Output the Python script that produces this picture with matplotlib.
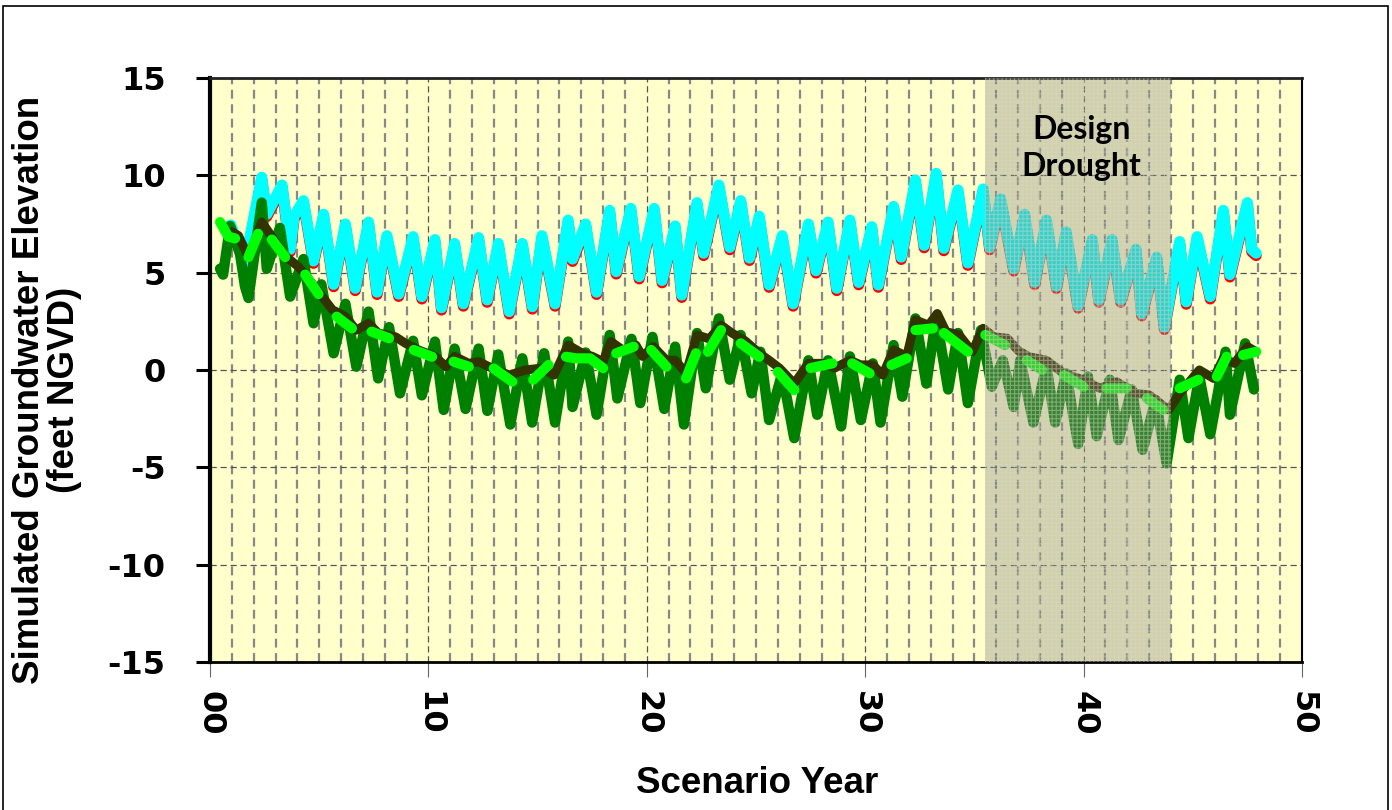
import numpy as np
import matplotlib
matplotlib.use("Agg")
import matplotlib.pyplot as plt
import matplotlib.transforms as mtransforms
from matplotlib.patches import Rectangle

# ---------------- data ----------------
cyan_x = [0.75, 0.95, 1.6, 2.37, 2.6, 3.3, 3.67, 3.85, 4.28, 4.74, 5.2, 5.66, 6.2, 6.65,
          7.26, 7.65, 8.1, 8.64, 9.3, 9.7, 10.3, 10.6, 11.2, 11.6, 12.3, 12.69, 13.2, 13.7,
          14.3, 14.76, 15.2, 15.8, 16.4, 16.6, 17.2, 17.7, 18.3, 18.6, 19.27, 19.65, 20.34,
          20.7, 21.3, 21.6, 22.3, 22.6, 23.3, 23.8, 24.3, 24.7, 25.15, 25.6, 26.2, 26.7,
          27.4, 27.75, 28.3, 28.7, 29.3, 29.7, 30.3, 30.6, 31.3, 31.65, 32.3, 32.7, 33.25,
          33.6, 34.25, 34.7, 35.4, 35.7, 36.2, 36.8, 37.3, 37.76, 38.3, 38.76, 39.2, 39.75,
          40.4, 40.7, 41.3, 41.7, 42.4, 42.66, 43.35, 43.7, 44.4, 44.7, 45.2, 45.8, 46.4,
          46.7, 47.5, 47.7, 47.9]
cyan_y = [7.3, 7.45, 5.5, 9.9, 8.0, 9.5, 6.2, 7.9, 8.7, 5.6, 8.0, 4.4, 7.5, 4.2,
          7.6, 4.0, 6.9, 3.9, 6.85, 3.77, 6.7, 3.2, 6.5, 3.4, 6.8, 3.6, 6.5, 3.0,
          6.5, 3.25, 6.9, 3.4, 7.7, 5.7, 7.5, 4.0, 8.2, 5.05, 8.3, 4.8, 8.3,
          4.6, 7.4, 3.85, 8.6, 6.0, 9.5, 6.3, 8.7, 5.75, 7.9, 4.37, 6.9, 3.4,
          7.5, 5.1, 7.6, 4.2, 7.7, 4.5, 7.36, 4.37, 8.4, 5.8, 9.76, 6.4, 10.1,
          6.25, 9.25, 5.5, 9.3, 6.3, 8.8, 5.2, 8.0, 4.5, 7.7, 4.3, 7.1, 3.3,
          6.7, 3.6, 6.7, 3.6, 6.2, 2.9, 5.8, 2.2, 6.6, 3.5, 6.85, 3.77, 8.2,
          4.9, 8.6, 6.2, 6.0]

dkgreen_x = [0.46, 0.6, 0.92, 1.37, 1.6, 1.76, 2.37, 2.6, 3.2, 3.67, 4.28, 4.74, 5.1, 5.66,
             6.2, 6.7, 7.26, 7.7, 8.2, 8.7, 9.3, 9.7, 10.3, 10.7, 11.2, 11.7, 12.3, 12.7,
             13.2, 13.75, 14.3, 14.75, 15.3, 15.8, 16.4, 16.6, 17.2, 17.7, 18.3, 18.65,
             19.3, 19.7, 20.26, 20.8, 21.3, 21.7, 22.3, 22.7, 23.3, 23.8, 24.3, 24.8,
             25.2, 25.6, 26.2, 26.75, 27.4, 27.8, 28.3, 28.9, 29.3, 29.8, 30.35, 30.7,
             31.3, 31.7, 32.3, 32.8, 33.25, 33.8, 34.25, 34.7, 35.3, 35.8, 36.3, 36.8,
             37.1, 37.7, 38.3, 38.7, 39.2, 39.75, 40.2, 40.6, 41.2, 41.6, 42.2, 42.7,
             43.3, 43.8, 44.4, 44.8, 45.3, 45.8, 46.5, 46.7, 47.4, 47.8]
dkgreen_y = [5.2, 4.9, 7.4, 6.0, 4.3, 3.7, 8.6, 5.2, 7.3, 3.77, 5.7, 2.4, 4.4, 0.86,
             3.4, 0.17, 3.0, -0.43, 2.2, -1.2, 1.5, -1.3, 1.46, -2.05, 1.1, -2.0, 1.1, -2.1,
             0.8, -2.8, 0.6, -2.7, 0.86, -2.7, 1.46, -1.9, 0.9, -2.3, 1.8, -1.46,
             1.6, -1.7, 1.7, -2.0, 1.2, -2.8, 1.9, -0.94, 2.65, -0.5, 1.8, -1.2,
             0.94, -2.57, -0.17, -3.5, 0.5, -2.3, 0.5, -2.9, 0.7, -2.57, 0.34, -2.7,
             1.28, -1.37, 2.65, -0.7, 2.7, -1.0, 1.9, -1.7, 2.05, -0.86, 0.5, -1.9,
             0.5, -2.7, 0.17, -2.7, -0.17, -3.8, -0.34, -3.4, -0.5, -3.6, -1.0, -4.1,
             -1.54, -4.8, -0.5, -3.5, -0.34, -3.3, 0.94, -2.3, 1.37, -1.0]

brown_x = [1.0, 1.3, 1.76, 2.37, 2.8, 3.4, 4.05, 4.36, 5.05, 5.6, 6.2, 6.7, 7.26, 7.7,
           8.5, 8.95, 9.55, 10.3, 10.8, 11.2, 11.85, 12.3, 12.9, 13.7, 14.45, 15.2, 15.75,
           16.4, 17.05, 17.5, 18.0, 18.35, 18.9, 19.5, 19.8, 20.3, 20.9, 21.3, 21.8, 22.3,
           22.86, 23.4, 23.9, 24.5, 25.15, 25.6, 26.07, 26.75, 27.4, 28.1, 28.6, 29.3,
           29.8, 30.35, 30.8, 31.3, 31.9, 32.3, 32.9, 33.3, 33.7, 34.3, 34.9, 35.4, 35.9,
           36.5, 37.0, 37.5, 38.3, 39.07, 39.98, 40.75, 41.5, 42.4, 43.0, 43.9, 44.4,
           45.3, 45.95, 46.4, 46.9, 47.5, 47.9]
brown_y = [7.1, 6.9, 5.8, 7.6, 6.9, 5.9, 5.3, 4.9, 3.9, 3.1, 2.74, 2.05, 2.4, 1.9,
           1.7, 1.37, 1.03, 0.7, 0.17, 0.7, 0.34, 0.43, 0.1, -0.26, 0.0, 0.1, -0.26,
           1.28, 0.86, 0.7, 0.43, 1.46, 1.03, 1.28, 0.7, 1.2, 0.5, 0.5, -0.17, 1.8,
           1.6, 2.3, 1.9, 1.5, 0.86, 0.5, 0.1, -0.7, 0.34, 0.34, 0.1, 0.5,
           0.26, 0.26, -0.26, 1.03, 0.7, 2.57, 2.3, 2.9, 1.97, 1.8, 0.94, 2.14, 1.7,
           1.63, 1.0, 0.68, 0.5, -0.17, -0.5, -0.94, -0.6, -1.2, -1.28, -2.05, -1.2,
           0.0, -0.43, 0.6, 0.34, 1.2, 0.94]

# bright green series, NaN marks gaps between the plotted pieces
ltgreen_x = [0.46, 0.84, 1.15, np.nan, 1.76, 2.2, np.nan, 2.83, 3.44, np.nan, 4.36, 4.97, np.nan,
             5.8, 6.5, np.nan, 7.4, 8.2, np.nan, 9.33, 10.17, np.nan, 11.15, 11.85, np.nan,
             12.99, 13.84, np.nan, 14.8, 15.5, np.nan, 16.3, 16.75, 17.4, 18.0, np.nan,
             18.6, 19.4, np.nan, 20.2, 20.9, np.nan, 21.8, 22.25, np.nan, 22.8, 23.4, np.nan,
             24.3, 25.15, np.nan, 26.0, 26.75, np.nan, 27.5, 28.5, np.nan, 29.4, 30.2, np.nan,
             31.2, 31.9, np.nan, 32.3, 33.1, np.nan, 33.6, 34.7, np.nan, 35.5, 36.4, np.nan,
             37.4, 38.1, np.nan, 39.1, 40.0, np.nan, 41.05, 41.97, np.nan, 42.9, 43.65, np.nan,
             44.4, 45.25, np.nan, 46.1, 46.55, np.nan, 47.3, 47.9]
ltgreen_y = [7.6, 6.85, 6.76, np.nan, 5.8, 7.0, np.nan, 6.7, 5.8, np.nan, 4.9, 3.9, np.nan,
             2.74, 2.14, np.nan, 1.97, 1.63, np.nan, 1.03, 0.68, np.nan, 0.43, 0.17, np.nan,
             0.08, -0.6, np.nan, -0.5, 0.26, np.nan, 0.68, 0.6, 0.6, 0.1, np.nan,
             0.86, 1.2, np.nan, 1.03, 0.17, np.nan, -0.43, 0.86, np.nan, 0.94, 2.05, np.nan,
             1.37, 0.68, np.nan, -0.1, -1.03, np.nan, 0.1, 0.34, np.nan, 0.34, -0.17, np.nan,
             0.26, 0.6, np.nan, 2.05, 2.14, np.nan, 1.9, 0.94, np.nan, 1.8, 1.28, np.nan,
             0.5, 0.0, np.nan, -0.26, -0.86, np.nan, -0.94, -0.94, np.nan, -1.46, -2.05, np.nan,
             -0.94, -0.5, np.nan, -0.34, 0.68, np.nan, 0.77, 0.94]

drought_start, drought_end = 35.5, 44.0
x_ticks = [0, 10, 20, 30, 40, 50]
x_ticklabels = ["00", "10", "20", "30", "40", "50"]
y_ticks = [-15, -10, -5, 0, 5, 10, 15]

# ---------------- figure ----------------
fig = plt.figure(figsize=(13.92, 8.10), dpi=100)
ax = fig.add_axes([210 / 1392, (810 - 662) / 810, 1092 / 1392, 584 / 810])
ax.set_facecolor("#FFFFCC")
ax.set_xlim(0, 50)
ax.set_ylim(-15, 15)

# grid
for yr in range(1, 50):
    if yr % 10 == 0:
        ax.axvline(yr, color="#555555", lw=0.9, ls=(0, (5, 3)), zorder=0.5)
    else:
        ax.axvline(yr, color="#888888", lw=1.6, ls=(0, (4, 2.5)), zorder=0.5)
for yv in [-10, -5, 0, 5, 10]:
    ax.axhline(yv, color="#555555", lw=0.9, ls=(0, (5, 3)), zorder=0.5)

# series
lkw = dict(solid_joinstyle="round", solid_capstyle="round")
red_off = mtransforms.offset_copy(ax.transData, fig=fig, x=0, y=-1.7, units="points")
ax.plot(cyan_x, cyan_y, color="#FF0000", lw=8.0, transform=red_off, zorder=2, **lkw)
ax.plot(cyan_x, cyan_y, color="#00FFFF", lw=8.0, zorder=3, **lkw)
ax.plot(dkgreen_x, dkgreen_y, color="#008000", lw=7.5, zorder=4, **lkw)
ax.plot(brown_x, brown_y, color="#333300", lw=6.5, zorder=5, **lkw)
ax.plot(ltgreen_x, ltgreen_y, color="#00FF00", lw=7.3, zorder=6, **lkw)

# drought shading
plt.rcParams["hatch.linewidth"] = 0.8
ax.axvspan(drought_start, drought_end, facecolor=(0.55, 0.54, 0.47, 0.40),
           edgecolor=(0.85, 0.85, 0.8, 0.45), hatch="++++", lw=0, zorder=7)
ax.text((drought_start + drought_end) / 2 + 0.15, 11.4, "Design\nDrought", ha="center",
        va="center", fontsize=23, fontweight="bold", family="Lato", linespacing=1.35,
        zorder=8)

# axes styling
ax.set_xticks(x_ticks)
ax.set_xticklabels(x_ticklabels, rotation=-90, fontsize=23, fontweight="bold",
                   family="DejaVu Sans")
ax.set_yticks(y_ticks)
ax.set_yticklabels([str(v) for v in y_ticks], fontsize=23, fontweight="bold",
                   family="DejaVu Sans")
ax.tick_params(axis="x", direction="out", length=11, width=0.8, color="#666666", pad=10)
ax.tick_params(axis="y", direction="out", length=10, width=2.2, color="black", pad=22)
for s, w in [("left", 3.0), ("bottom", 2.0), ("top", 2.0), ("right", 1.5)]:
    ax.spines[s].set_linewidth(w)
    ax.spines[s].set_color("black")
ax.spines["top"].set_color("#222222")

ax.set_xlabel("Scenario Year", fontsize=26.5, fontweight="bold", family="Liberation Sans")
ax.xaxis.set_label_coords(0.501, -0.178)
ax.set_ylabel("Simulated Groundwater Elevation\n(feet NGVD)", fontsize=26.5,
              fontweight="bold", family="Liberation Sans", linespacing=1.0)
ax.yaxis.set_label_coords(-0.117, 0.466)

# figure border
fig.patches.append(Rectangle((0.002, -0.01), 0.995, 1.003, transform=fig.transFigure,
                             fill=False, edgecolor="black", lw=1.2))

fig.savefig("out.png", dpi=100)
